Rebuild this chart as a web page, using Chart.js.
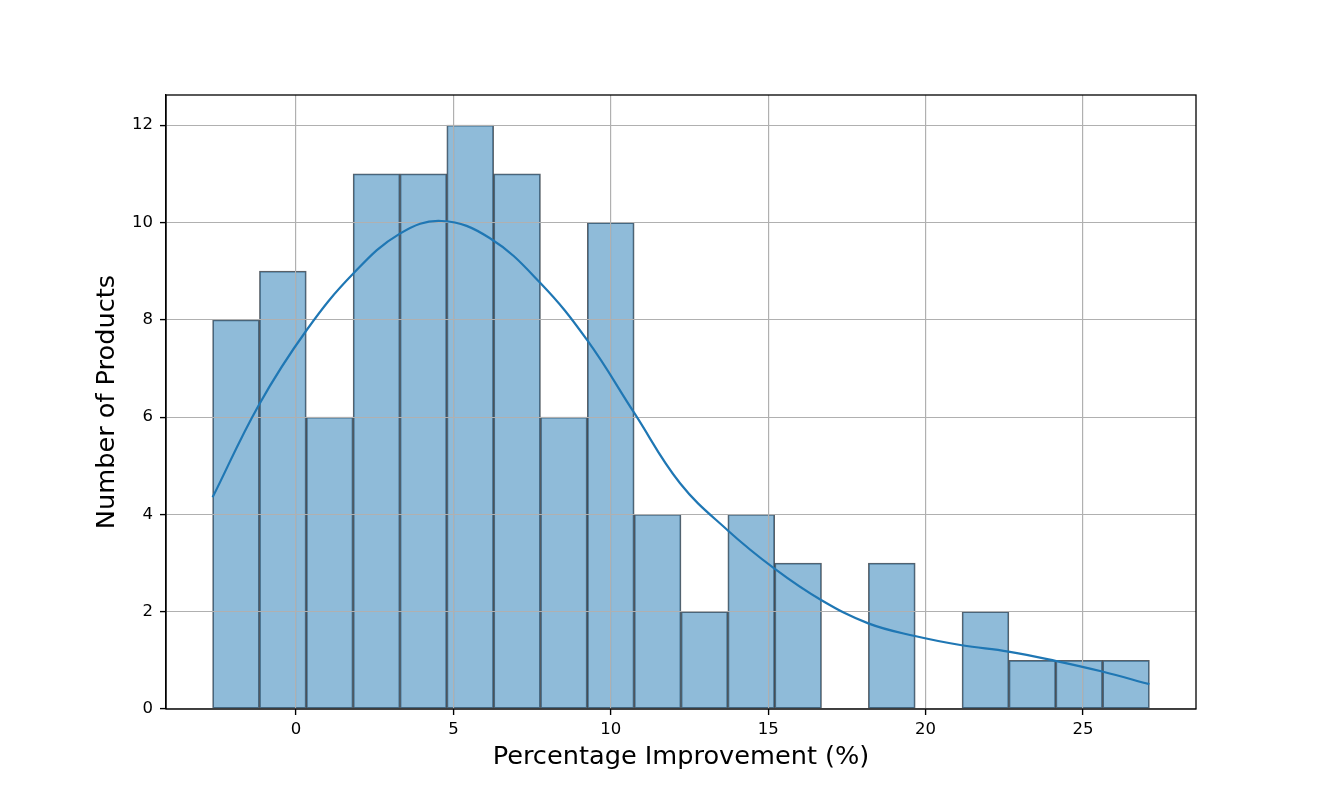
<!DOCTYPE html>
<html>
<head>
<meta charset="utf-8">
<script src="https://cdn.jsdelivr.net/npm/chart.js@4.4.0/dist/chart.umd.min.js"></script>
<style>
  html, body { margin: 0; padding: 0; background: #ffffff; }
  #wrap { width: 1329px; height: 797px; }
</style>
</head>
<body>
<div id="wrap"><canvas id="c" width="1329" height="797"></canvas></div>
<script>
// Histogram bin edges
const BIN_EDGES = [-2.650, -1.162, 0.326, 1.814, 3.302, 4.790, 6.278, 7.766, 9.254, 10.742,
                   12.230, 13.718, 15.206, 16.694, 18.182, 19.670, 21.158, 22.646, 24.134, 25.622, 27.110];
// Counts per bin
const BIN_COUNTS = [8, 9, 6, 11, 11, 12, 11, 6, 10, 4, 2, 4, 3, 0, 3, 0, 2, 1, 1, 1];
// KDE curve samples
const KDE_X = [-2.65, -1.18, 0.34, 1.82, 3.30, 4.63, 6.15, 7.77, 9.25, 10.75, 12.20,
               13.70, 15.19, 16.68, 18.18, 19.66, 21.15, 22.63, 24.12, 25.61, 27.11];
const KDE_Y = [4.35, 6.25, 7.79, 8.95, 9.77, 10.03, 9.68, 8.75, 7.58, 6.08, 4.64,
               3.68, 2.89, 2.24, 1.76, 1.50, 1.31, 1.18, 0.99, 0.77, 0.51];
// Axis ticks
const X_TICKS = [0, 5, 10, 15, 20, 25];
const Y_TICKS = [0, 2, 4, 6, 8, 10, 12];
const X_RANGE = [-4.13, 28.59];
const Y_RANGE = [0, 12.62];
const X_LABEL = 'Percentage Improvement (%)';
const Y_LABEL = 'Number of Products';

const barData = BIN_COUNTS.map((c, i) => ({ x: (BIN_EDGES[i] + BIN_EDGES[i + 1]) / 2, y: c }));
const kdeData = KDE_X.map((x, i) => ({ x: x, y: KDE_Y[i] }));

// matplotlib draws the grid above the bars but below the line
const gridOverBars = {
  id: 'gridOverBars',
  beforeDatasetDraw(chart, args) {
    if (args.index !== 0) return;
    chart.scales.x.drawGrid(chart.chartArea);
    chart.scales.y.drawGrid(chart.chartArea);
  }
};

const frame = {
  id: 'frame',
  afterDatasetsDraw(chart) {
    const { ctx, chartArea: a } = chart;
    ctx.save();
    ctx.strokeStyle = '#000';
    ctx.lineWidth = 1.3;
    ctx.strokeRect(a.left, a.top, a.right - a.left, a.bottom - a.top);
    ctx.restore();
  }
};

const FONT = "'DejaVu Sans', sans-serif";

new Chart(document.getElementById('c'), {
  type: 'bar',
  data: {
    datasets: [
      {
        type: 'line',
        data: kdeData,
        borderColor: '#1f77b4',
        borderWidth: 2.2,
        pointRadius: 0,
        fill: false,
        tension: 0.4,
        order: 0
      },
      {
        type: 'bar',
        data: barData,
        backgroundColor: 'rgba(31,119,180,0.5)',
        borderColor: 'rgba(25,35,45,0.72)',
        borderWidth: 1.1,
        borderSkipped: false,
        barPercentage: 1.0,
        categoryPercentage: 1.0,
        order: 1
      }
    ]
  },
  options: {
    responsive: false,
    animation: false,
    devicePixelRatio: 1,
    layout: { padding: { top: 95, right: 133, left: 88, bottom: 20 } },
    plugins: { legend: { display: false }, tooltip: { enabled: false } },
    scales: {
      x: {
        type: 'linear',
        min: X_RANGE[0], max: X_RANGE[1],
        offset: false,
        grid: { color: '#b0b0b0', lineWidth: 1.1, offset: false, tickLength: 6, tickColor: '#000', tickWidth: 1.2 },
        border: { display: true, color: '#000', width: 1.3 },
        afterBuildTicks: (s) => { s.ticks = X_TICKS.map(v => ({ value: v })); },
        afterFit: (s) => { s.height = 68; },
        ticks: { color: '#000', font: { family: FONT, size: 16.5 }, padding: 5, maxRotation: 0 },
        title: { display: true, text: X_LABEL, color: '#000', font: { family: FONT, size: 25.6 } }
      },
      y: {
        type: 'linear',
        min: Y_RANGE[0], max: Y_RANGE[1],
        grid: { color: '#b0b0b0', lineWidth: 1.1, tickLength: 6, tickColor: '#000', tickWidth: 1.2 },
        border: { display: true, color: '#000', width: 1.3 },
        afterBuildTicks: (s) => { s.ticks = Y_TICKS.map(v => ({ value: v })); },
        afterFit: (s) => { s.width = 78; },
        ticks: { color: '#000', font: { family: FONT, size: 16.5 }, padding: 7 },
        title: { display: true, text: Y_LABEL, color: '#000', font: { family: FONT, size: 25.6 } }
      }
    }
  },
  plugins: [gridOverBars, frame]
});
</script>
</body>
</html>
